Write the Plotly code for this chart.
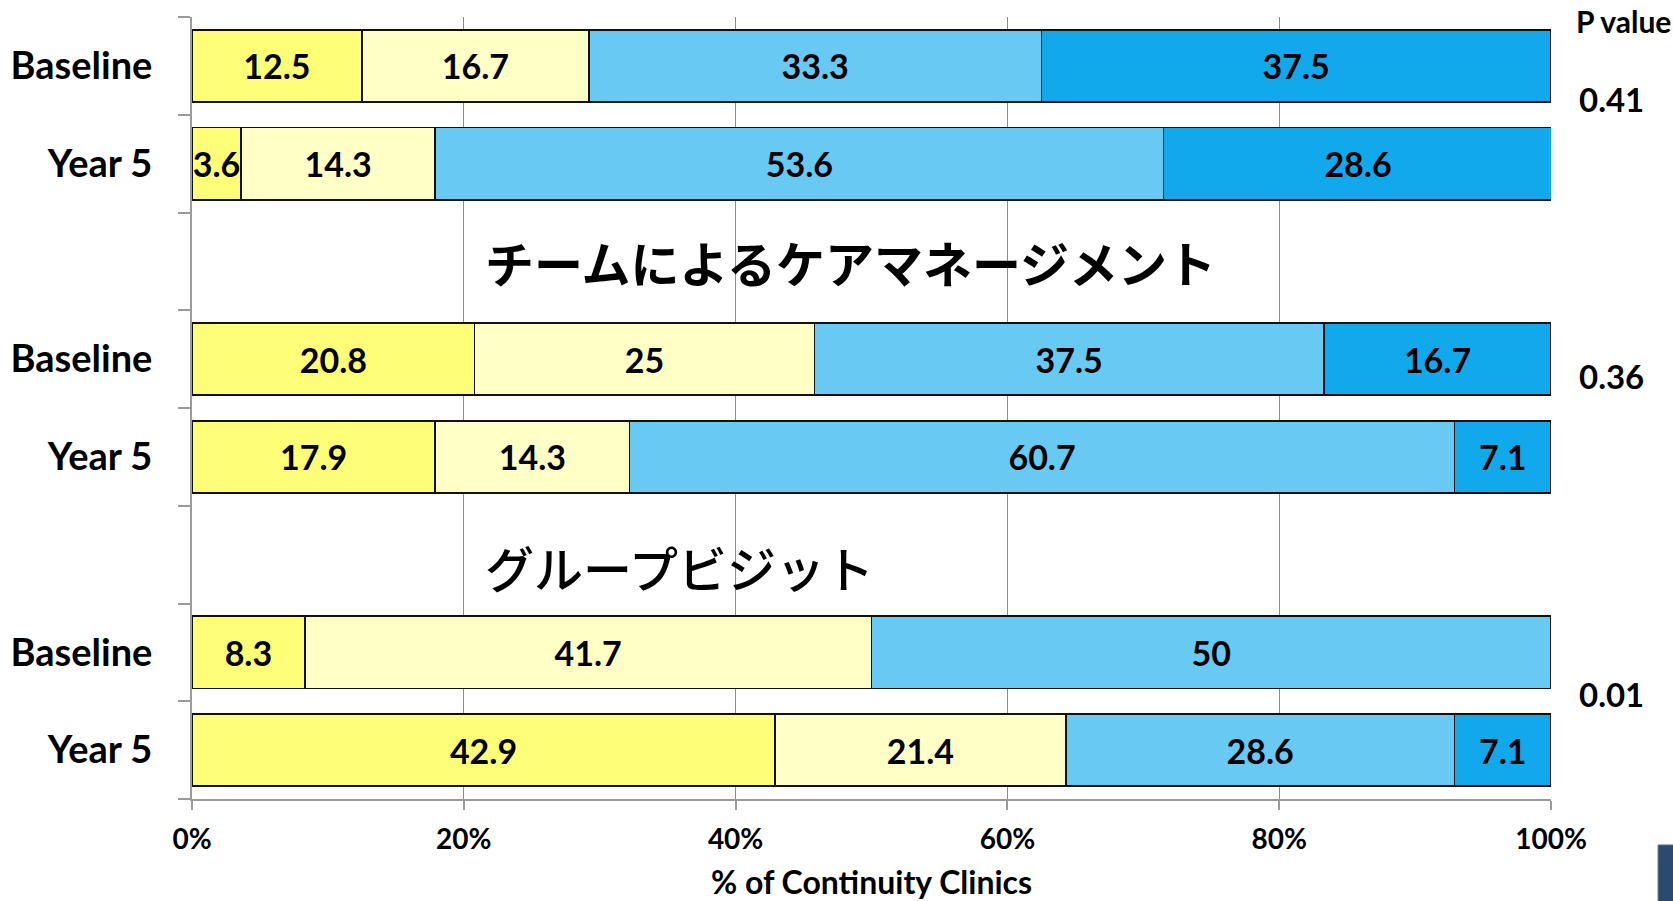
import plotly.graph_objects as go

# ---- data ----
row_keys = ["B1", "Y1", "G1", "B2", "Y2", "G2", "B3", "Y3"]
row_labels = ["Baseline", "Year 5", "", "Baseline", "Year 5", "", "Baseline", "Year 5"]

series1 = [12.5, 3.6, None, 20.8, 17.9, None, 8.3, 42.9]
series2 = [16.7, 14.3, None, 25, 14.3, None, 41.7, 21.4]
series3 = [33.3, 53.6, None, 37.5, 60.7, None, 50, 28.6]
series4 = [37.5, 28.6, None, 16.7, 7.1, None, None, 7.1]

series_colors = ["#FFFF77", "#FFFFC6", "#68C9F3", "#12A9EC"]

group_titles = ["チームによるケアマネージメント", "グループビジット"]
group_rows = ["G1", "G2"]

p_header = "P value"
p_values = ["0.41", "0.36", "0.01"]

x_ticks = [0, 20, 40, 60, 80, 100]
x_ticktext = ["0%", "20%", "40%", "60%", "80%", "100%"]
x_title = "% of Continuity Clinics"

FONT = "Lato"

fig = go.Figure()
for vals, col in zip([series1, series2, series3, series4], series_colors):
    fig.add_trace(go.Bar(
        y=row_keys, x=vals, orientation="h",
        marker=dict(color=col, line=dict(color="#111111", width=1.6)),
        text=[("" if v is None else f"{v:g}") for v in vals],
        textposition="inside", insidetextanchor="middle",
        textangle=0, constraintext="none",
        textfont=dict(family=FONT, size=34, color="black", weight="bold"),
        hoverinfo="skip", showlegend=False,
    ))

fig.update_layout(
    width=1673, height=901,
    margin=dict(l=192, r=122, t=17, b=102),
    barmode="stack", bargap=0.26,
    plot_bgcolor="white", paper_bgcolor="white",
    font=dict(family=FONT, color="black"),
    xaxis=dict(
        range=[0, 100], tickvals=x_ticks, ticktext=x_ticktext,
        automargin=False,
        showgrid=True, gridcolor="#8c8c8c", gridwidth=1,
        showline=True, linecolor="#9a9a9a", linewidth=2,
        ticks="outside", ticklen=9, tickcolor="#9a9a9a", tickwidth=2,
        tickfont=dict(family=FONT, size=28, color="black", weight="bold"),
        ticklabelstandoff=5,
        zeroline=False,
        title=dict(text=x_title, standoff=24,
                   font=dict(family=FONT, size=32, color="black", weight="bold")),
    ),
    yaxis=dict(
        type="category", categoryorder="array", categoryarray=row_keys,
        tickvals=row_keys, ticktext=row_labels,
        automargin=False,
        autorange="reversed", tickson="boundaries",
        showline=True, linecolor="#9a9a9a", linewidth=2,
        ticks="outside", ticklen=12, tickcolor="#9a9a9a", tickwidth=2,
        tickfont=dict(family=FONT, size=38, color="black", weight="bold"),
        ticklabelstandoff=30,
        showgrid=False,
    ),
)

# group titles inside empty rows
for i, (t, r) in enumerate(zip(group_titles, group_rows)):
    fig.add_annotation(
        x=21.4, y=r, xref="x", yref="y", text=t, showarrow=False,
        xanchor="left", yanchor="middle", yshift=(0 if i == 0 else -12),
        font=dict(family="Noto Sans CJK JP", size=49, color="black",
                  weight=("bold" if i == 0 else 500)),
    )

# P values
fig.add_annotation(x=1.017, y=0.995, xref="paper", yref="paper", text=p_header,
                   showarrow=False, xanchor="left", yanchor="middle",
                   font=dict(family=FONT, size=30, color="black", weight="bold"))
for pv, yy in zip(p_values, [0.895, 0.541, 0.134]):
    fig.add_annotation(x=1.019, y=yy, xref="paper", yref="paper", text=pv,
                       showarrow=False, xanchor="left", yanchor="middle",
                       font=dict(family=FONT, size=33, color="black", weight="bold"))

# small logo fragment at bottom-right corner
fig.add_shape(type="rect", xref="paper", yref="paper",
              x0=1.0788, x1=1.095, y0=-0.0588, y1=-0.14,
              fillcolor="#2B4A6F", line=dict(color="#5a6f8a", width=1))

fig.write_html("out.html")
